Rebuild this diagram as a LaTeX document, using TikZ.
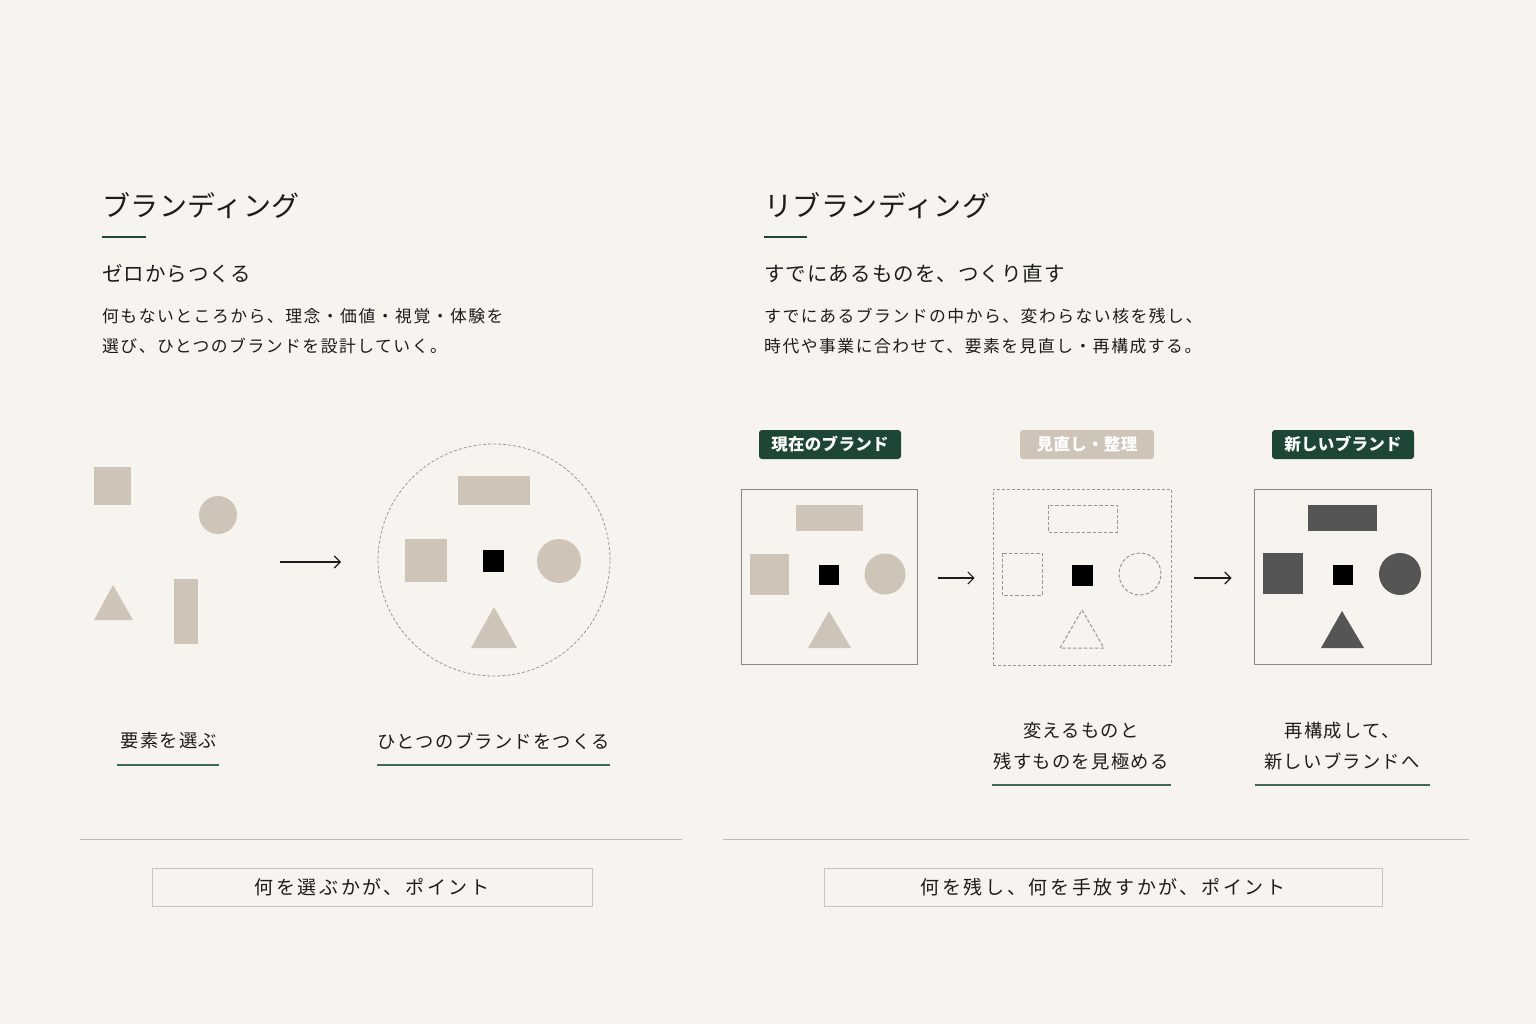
\documentclass[tikz,border=0pt]{standalone}
\usepackage{fontspec}
\setmainfont{Noto Sans CJK JP}
\newfontfamily\jpA{Noto Sans CJK JP}[LetterSpace=2]
\newfontfamily\jpB{Noto Sans CJK JP}[LetterSpace=5]
\newfontfamily\jpC{Noto Sans CJK JP}[LetterSpace=9]
\newfontfamily\jpL{Noto Sans CJK JP}[LetterSpace=7]
\newfontfamily\jpD{Noto Sans CJK JP}[LetterSpace=14]
\newfontfamily\jpE{Noto Sans CJK JP}[LetterSpace=2]
\usetikzlibrary{arrows.meta}
\definecolor{bg}{HTML}{F7F3EE}
\definecolor{ink}{HTML}{1C1C1C}
\definecolor{beige}{HTML}{CEC4B7}
\definecolor{dgrey}{HTML}{555555}
\definecolor{bgreen}{HTML}{1E4634}
\definecolor{lgreen}{HTML}{3D6B53}
\definecolor{frameg}{HTML}{8A8784}
\definecolor{dashg}{HTML}{9A9692}
\definecolor{sepg}{HTML}{BFBAB2}
\definecolor{pboxg}{HTML}{C9C3BB}
\tikzset{
  ttl/.style={anchor=west,inner sep=0pt,text=ink,font=\fontsize{28}{32}\selectfont\jpA},
  subt/.style={anchor=west,inner sep=0pt,text=ink,font=\fontsize{20.5}{24}\selectfont\jpB},
  bodyt/.style={anchor=west,inner sep=0pt,text=ink,font=\fontsize{16.8}{20}\selectfont\jpC},
  labt/.style={inner sep=0pt,text=ink,font=\fontsize{18.3}{22}\selectfont\jpL},
  pbox/.style={draw=pboxg,line width=1pt,fill=bg,inner sep=0pt,minimum height=38pt,text=ink,font=\fontsize{19}{22}\selectfont\jpD},
  badge/.style={rounded corners=3pt,inner sep=0pt,minimum height=29pt,text=white,font=\fontsize{16.5}{20}\selectfont\bfseries\jpE},
  frame/.style={draw=frameg,line width=1pt,inner sep=0pt},
  dframe/.style={draw=dashg,line width=0.9pt,dash pattern=on 3pt off 2pt,inner sep=0pt},
  dshape/.style={draw=dashg,line width=1pt,dash pattern=on 3.5pt off 2pt},
  gline/.style={draw=bgreen,line width=2.6pt},
  uline/.style={draw=lgreen,line width=1.5pt},
  sepline/.style={draw=sepg,line width=1pt},
  arr/.style={draw=ink,line width=1.1pt,-{Straight Barb[length=6pt,width=12pt,line width=1.1pt]}},
}
\begin{document}
\begin{tikzpicture}[x=1pt,y=-1pt]
\useasboundingbox (0,0) rectangle (1536,1024);
\fill[bg] (0,0) rectangle (1536,1024);

% ---------- left header ----------
\node[ttl] (t1) at (102,206) {ブランディング};
\draw[gline] (102,237) -- (146,237);
\node[subt] (s1) at (102,274) {ゼロからつくる};
\node[bodyt] (b1a) at (102,316) {何もないところから、理念・価値・視覚・体験を};
\node[bodyt] (b1b) at (102,346) {選び、ひとつのブランドを設計していく。};

% ---------- right header ----------
\node[ttl] (t2) at (764,206) {リブランディング};
\draw[gline] (764,237) -- (807,237);
\node[subt] (s2) at (764,274) {すでにあるものを、つくり直す};
\node[bodyt] (b2a) at (764,316) {すでにあるブランドの中から、変わらない核を残し、};
\node[bodyt] (b2b) at (764,346) {時代や事業に合わせて、要素を見直し・再構成する。};

% ---------- left scattered shapes ----------
\fill[beige] (94,467) rectangle (131,505);
\fill[beige] (218,515) circle (19pt);
\fill[beige] (113,585) -- (133,620) -- (94,620) -- cycle;
\fill[beige] (174,579) rectangle (198,644);

\coordinate (la1) at (280,562);
\coordinate (la2) at (341,562);
\draw[arr] (la1) -- (la2);

% ---------- left gathered circle ----------
\node[circle,dshape,line width=0.8pt,dash pattern=on 3pt off 2pt,minimum size=232pt,inner sep=0pt] (gc) at (494,560) {};
\fill[beige] (458,476) rectangle (530,505);
\fill[beige] (405,539) rectangle (447,582);
\fill[black] (483,550) rectangle (504,572);
\fill[beige] (559,561) circle (22pt);
\fill[beige] (494,607) -- (517,648) -- (471,648) -- cycle;

% ---------- left labels ----------
\node[labt] (l1) at (169,741) {要素を選ぶ};
\draw[uline] (117,765) -- (219,765);
\node[labt] (l2) at (494,741) {ひとつのブランドをつくる};
\draw[uline] (377,765) -- (610,765);

% ---------- right badges ----------
\node[badge,fill=bgreen,minimum width=142pt] (bd1) at (830,444.5) {現在のブランド};
\node[badge,fill=beige,minimum width=134pt] (bd2) at (1087,444.5) {見直し・整理};
\node[badge,fill=bgreen,minimum width=142pt] (bd3) at (1343,444.5) {新しいブランド};

% ---------- right frames ----------
\node[frame,minimum width=176pt,minimum height=175pt] (f1) at (829,576.5) {};
\node[dframe,minimum width=178pt,minimum height=176pt] (f2) at (1082,577) {};
\node[frame,minimum width=177pt,minimum height=175pt] (f3) at (1342.5,576.5) {};

\draw[arr] ([xshift=20pt,yshift=-1.5pt]f1.east) -- ([xshift=-18pt,yshift=-1pt]f2.west);
\draw[arr] ([xshift=23pt,yshift=-1pt]f2.east) -- ([xshift=-22pt,yshift=-1.5pt]f3.west);

% frame 1 contents
\fill[beige] (796,505) rectangle (863,531);
\fill[beige] (750,554) rectangle (789,595);
\fill[black] (819,565) rectangle (839,585);
\fill[beige] (885,574) circle (20.5pt);
\fill[beige] (829,611) -- (851,648) -- (808,648) -- cycle;

% frame 2 contents
\draw[dshape] (1048,505) rectangle (1117,532);
\draw[dshape] (1002,553) rectangle (1042,595);
\fill[black] (1072,565) rectangle (1093,586);
\draw[dshape] (1140,574) circle (21pt);
\draw[dshape] (1082,610) -- (1104,648) -- (1060,648) -- cycle;

% frame 3 contents
\fill[dgrey] (1308,505) rectangle (1377,531);
\fill[dgrey] (1263,553) rectangle (1303,594);
\fill[black] (1333,565) rectangle (1353,585);
\fill[dgrey] (1400,574) circle (21pt);
\fill[dgrey] (1342,611) -- (1364,648) -- (1321,648) -- cycle;

% ---------- right labels ----------
\node[labt] (l3a) at (1081,731) {変えるものと};
\node[labt] (l3b) at (1081,761) {残すものを見極める};
\draw[uline] (992,785) -- (1171,785);
\node[labt] (l4a) at (1342,731) {再構成して、};
\node[labt] (l4b) at (1342,761) {新しいブランドへ};
\draw[uline] (1255,785) -- (1430,785);

% ---------- separators ----------
\draw[sepline] (80,839) -- (682,839);
\draw[sepline] (723,839) -- (1469,839);

% ---------- point boxes ----------
\node[pbox,minimum width=440pt] (p1) at (372,887) {何を選ぶかが、ポイント};
\node[pbox,minimum width=558pt] (p2) at (1103,887) {何を残し、何を手放すかが、ポイント};
\end{tikzpicture}
\end{document}
